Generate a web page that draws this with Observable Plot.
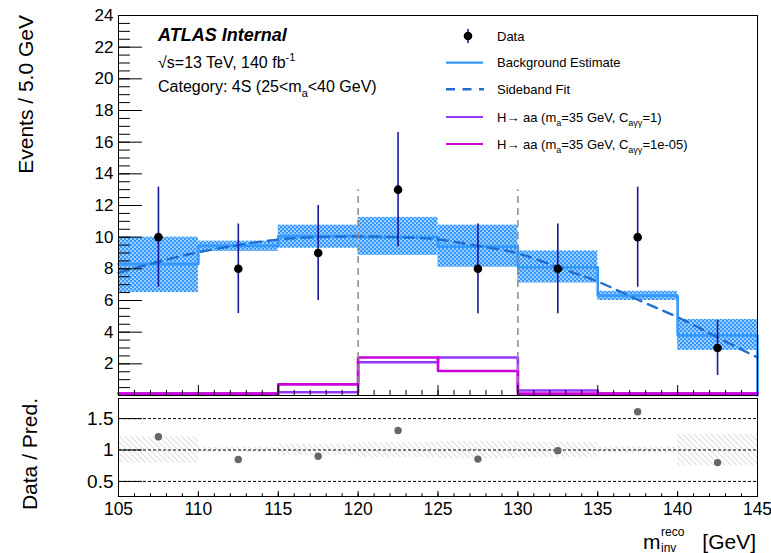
<!DOCTYPE html>
<html><head><meta charset="utf-8">
<script src="https://cdn.jsdelivr.net/npm/d3@7"></script>
<script src="https://cdn.jsdelivr.net/npm/@observablehq/plot@0.6"></script>
<style>
body{margin:0;background:#fff;}
#wrap{position:relative;width:771px;height:553px;overflow:hidden;background:#fff;font-family:"Liberation Sans",Arial,sans-serif;}
#wrap svg{position:absolute;left:0;}
</style></head><body><div id="wrap"></div>
<script>
// ---- data ----
const binLow = [105,110,115,120,125,130,135,140];
const binWidth = 5;
const dataCounts = [10,8,9,13,8,8,10,3];
const dataErr = [3.16,2.83,3.0,3.61,2.83,2.83,3.16,1.73];
const bkgEstimate = [8.3,9.45,10.05,10.0,9.4,8.1,6.3,3.8];
const bkgBandLow = [6.5,9.1,9.3,8.85,8.1,7.1,6.0,2.85];
const bkgBandHigh = [10.0,9.75,10.76,11.25,10.76,9.13,6.58,4.8];
const sigC1 = [0.12,0.12,0.21,2.1,2.4,0.32,0.12,0.12];
const sigC1e5 = [0.12,0.12,0.7,2.4,1.55,0.12,0.12,0.12];
const fitMass = [105,107.5,110,112.5,115,117.5,120,122.5,125,127.5,130,132.5,135,137.5,140,142.5,145];
const fitValue = [7.75,8.45,9.05,9.5,9.85,10.0,10.05,10.0,9.85,9.45,8.97,8.1,7.2,6.05,4.95,3.67,2.4];
const ratioValues = [1.21,0.85,0.9,1.31,0.855,0.99,1.61,0.8];
const ratioBandLow = [0.79,0.96,0.91,0.88,0.86,0.88,0.95,0.75];
const ratioBandHigh = [1.21,1.04,1.09,1.12,1.14,1.12,1.05,1.25];
const signalRegion = [120,130];
const yTickLabelsMain = [2,4,6,8,10,12,14,16,18,20,22,24];
const yTickLabelsRatio = [0.5,1,1.5];
const xTickLabels = [105,110,115,120,125,130,135,140,145];

// ---- derived tables ----
const bins = binLow.map((lo,i)=>({lo, hi: lo+binWidth, mid: lo+binWidth/2,
  n: dataCounts[i], e: dataErr[i], bLo: bkgBandLow[i], bHi: bkgBandHigh[i],
  r: ratioValues[i], rLo: ratioBandLow[i], rHi: ratioBandHigh[i]}));
const steps = (vals, closeToZero) => {
  const pts = binLow.map((lo,i)=>({x: lo, y: vals[i]}));
  pts.push({x: binLow[binLow.length-1]+binWidth, y: vals[vals.length-1]});
  if (closeToZero) pts.push({x: binLow[binLow.length-1]+binWidth, y: 0});
  return pts;
};
const fitPts = fitMass.map((m,i)=>({x: m, y: fitValue[i]}));

const xMinor = d3.range(105,146,1);
const yMinorMain = d3.range(0,24.01,0.5);

const C_BKG = "#3399ff", C_FIT = "#1f6fd1", C_S1 = "#9933ff", C_S2 = "#cc00dd", C_ERR = "#18189c";
const FONT = "Liberation Sans, Arial, sans-serif";

const main = Plot.plot({
  width: 771, height: 397,
  marginLeft: 118, marginRight: 14, marginTop: 15, marginBottom: 2,
  x: {domain: [105,145], axis: null},
  y: {domain: [0,24], ticks: yTickLabelsMain, tickSize: 0, tickPadding: 5, label: null, tickFormat: d=>String(d)},
  style: {fontSize: "17px", fontFamily: FONT, background: "transparent", color: "black", overflow: "visible"},
  marks: [
    Plot.rect(bins, {x1: "lo", x2: "hi", y1: "bLo", y2: "bHi", fill: "url(#bkgPattern)"}),
    Plot.line(steps(bkgEstimate, true), {x: "x", y: "y", curve: "step-after", stroke: C_BKG, strokeWidth: 2.6}),
    Plot.line(fitPts, {x: "x", y: "y", curve: "natural", stroke: C_FIT, strokeWidth: 2.4, strokeDasharray: "10,7"}),
    Plot.line(steps(sigC1, false), {x: "x", y: "y", curve: "step-after", stroke: C_S1, strokeWidth: 2.6}),
    Plot.line(steps(sigC1e5, false), {x: "x", y: "y", curve: "step-after", stroke: C_S2, strokeWidth: 2.6}),
    Plot.ruleX(signalRegion, {x: d=>d, y1: 0, y2: 13, stroke: "#8c8c8c", strokeWidth: 1.5, strokeDasharray: "7,5"}),
    Plot.ruleX(bins, {x: "mid", y1: d=>d.n-d.e, y2: d=>d.n+d.e, stroke: C_ERR, strokeWidth: 1.6}),
    Plot.dot(bins, {x: "mid", y: "n", r: 4.3, fill: "black", stroke: "none"}),
    Plot.ruleY(yTickLabelsMain, {y: d=>d, x1: 105, x2: 106.5, stroke: "black"}),
    Plot.ruleY(yMinorMain, {y: d=>d, x1: 105, x2: 105.75, stroke: "black"}),
    Plot.ruleX(xTickLabels, {x: d=>d, y1: 0, y2: 0.63, stroke: "black"}),
    Plot.ruleX(xMinor, {x: d=>d, y1: 0, y2: 0.32, stroke: "black"}),
    Plot.frame({stroke: "black", strokeWidth: 1})
  ]
});
main.style.top = "0px";

const ratioPlot = Plot.plot({
  width: 771, height: 156,
  marginLeft: 118, marginRight: 14, marginTop: 1, marginBottom: 57,
  x: {domain: [105,145], ticks: xTickLabels, tickSize: 0, tickPadding: 6, label: null, tickFormat: d=>String(d)},
  y: {domain: [0.26,1.82], ticks: yTickLabelsRatio, tickSize: 0, tickPadding: 5, label: null, tickFormat: d=>String(d)},
  style: {fontSize: "19px", fontFamily: FONT, background: "transparent", color: "black", overflow: "visible"},
  marks: [
    Plot.rect(bins, {x1: "lo", x2: "hi", y1: "rLo", y2: "rHi", fill: "url(#ratioHatch)"}),
    Plot.ruleY(yTickLabelsRatio, {y: d=>d, x1: 105, x2: 145, stroke: "black", strokeWidth: 1, strokeDasharray: "3,2"}),
    Plot.ruleY(yTickLabelsRatio, {y: d=>d, x1: 105, x2: 106.5, stroke: "black"}),
    Plot.ruleX(xTickLabels, {x: d=>d, y1: 0.26, y2: 0.34, stroke: "black"}),
    Plot.ruleX(xMinor, {x: d=>d, y1: 0.26, y2: 0.305, stroke: "black"}),
    Plot.dot(bins, {x: "mid", y: "r", r: 3.7, fill: "#666666", stroke: "none"}),
    Plot.frame({stroke: "black", strokeWidth: 1})
  ]
});
ratioPlot.style.top = "397px";

const wrap = document.getElementById("wrap");
wrap.appendChild(main);
wrap.appendChild(ratioPlot);

// x tick labels: slightly smaller font so the last label fits in the window
d3.select(ratioPlot).selectAll("[aria-label='x-axis tick label']").attr("font-size", 17.5);

// ---- patterns ----
const ms = d3.select(main);
const defs = ms.insert("defs", ":first-child");
const bp = defs.append("pattern").attr("id","bkgPattern").attr("width",4).attr("height",4).attr("patternUnits","userSpaceOnUse");
bp.append("rect").attr("width",4).attr("height",4).attr("fill",C_BKG);
bp.append("circle").attr("cx",1).attr("cy",1).attr("r",0.85).attr("fill","#fff");
bp.append("circle").attr("cx",3).attr("cy",3).attr("r",0.85).attr("fill","#fff");
const rs = d3.select(ratioPlot);
const rdefs = rs.insert("defs", ":first-child");
const hp = rdefs.append("pattern").attr("id","ratioHatch").attr("width",4).attr("height",4)
  .attr("patternUnits","userSpaceOnUse").attr("patternTransform","rotate(-45)");
hp.append("line").attr("x1",0).attr("y1",0).attr("x2",0).attr("y2",4).attr("stroke","#bdbdbd").attr("stroke-width",1.1);

// ---- texts ----
const t = (sel, x, y, size, opts={}) => {
  const el = sel.append("text").attr("x",x).attr("y",y).attr("font-size",size)
    .attr("font-family",FONT).attr("fill","black").attr("text-anchor", opts.anchor||"start");
  if (opts.weight) el.attr("font-weight",opts.weight);
  if (opts.style) el.attr("font-style",opts.style);
  return el;
};
const parts = (el, list) => {
  list.forEach(p => {
    const ts = el.append("tspan").text(p.s);
    if (p.size) ts.attr("font-size", p.size);
    if (p.dy) ts.attr("dy", p.dy);
  });
  return el;
};

// y-axis title
ms.append("text").attr("transform","translate(33,15) rotate(-90)").attr("text-anchor","end")
  .attr("font-size",21).attr("font-family",FONT).attr("fill","black").text("Events / 5.0 GeV");

// ATLAS labels
t(ms,158,41,18,{weight:"bold",style:"italic"}).text("ATLAS Internal");
parts(t(ms,158,68,16), [{s:"√s=13 TeV, 140 fb"},{s:"-1",size:11,dy:-7}]);
parts(t(ms,158,92,16), [{s:"Category: 4S (25<m"},{s:"a",size:11,dy:5},{s:"<40 GeV)",dy:-5}]);

// legend
const lg = ms.append("g");
lg.append("line").attr("x1",468).attr("x2",468).attr("y1",29).attr("y2",43).attr("stroke",C_ERR).attr("stroke-width",1.6);
lg.append("circle").attr("cx",468).attr("cy",36).attr("r",4.3).attr("fill","black");
t(lg,497,40.5,13).text("Data");
lg.append("line").attr("x1",446).attr("x2",483).attr("y1",62.7).attr("y2",62.7).attr("stroke",C_BKG).attr("stroke-width",2.2);
t(lg,497,67.2,13).text("Background Estimate");
lg.append("line").attr("x1",446).attr("x2",484).attr("y1",89.3).attr("y2",89.3).attr("stroke",C_FIT).attr("stroke-width",2.6).attr("stroke-dasharray","9,7.5");
t(lg,497,93.8,13).text("Sideband Fit");
lg.append("line").attr("x1",446).attr("x2",483).attr("y1",117).attr("y2",117).attr("stroke",C_S1).attr("stroke-width",2.2);
parts(t(lg,497,121.5,13), [{s:"H→ aa (m"},{s:"a",size:9,dy:4},{s:"=35 GeV, C",dy:-4},{s:"aγγ",size:9,dy:4},{s:"=1)",dy:-4}]);
lg.append("line").attr("x1",446).attr("x2",483).attr("y1",144).attr("y2",144).attr("stroke",C_S2).attr("stroke-width",2.2);
parts(t(lg,497,148.5,13), [{s:"H→ aa (m"},{s:"a",size:9,dy:4},{s:"=35 GeV, C",dy:-4},{s:"aγγ",size:9,dy:4},{s:"=1e-05)",dy:-4}]);

// ratio y title and x title
rs.append("text").attr("transform","translate(37,1) rotate(-90)").attr("text-anchor","end")
  .attr("font-size",21).attr("font-family",FONT).attr("fill","black").text("Data / Pred.");
t(rs,643,152,21).text("m");
t(rs,661,139,12).text("reco");
t(rs,661,154.5,12).text("inv");
t(rs,756,152,21,{anchor:"end"}).text("[GeV]");
</script></body></html>
